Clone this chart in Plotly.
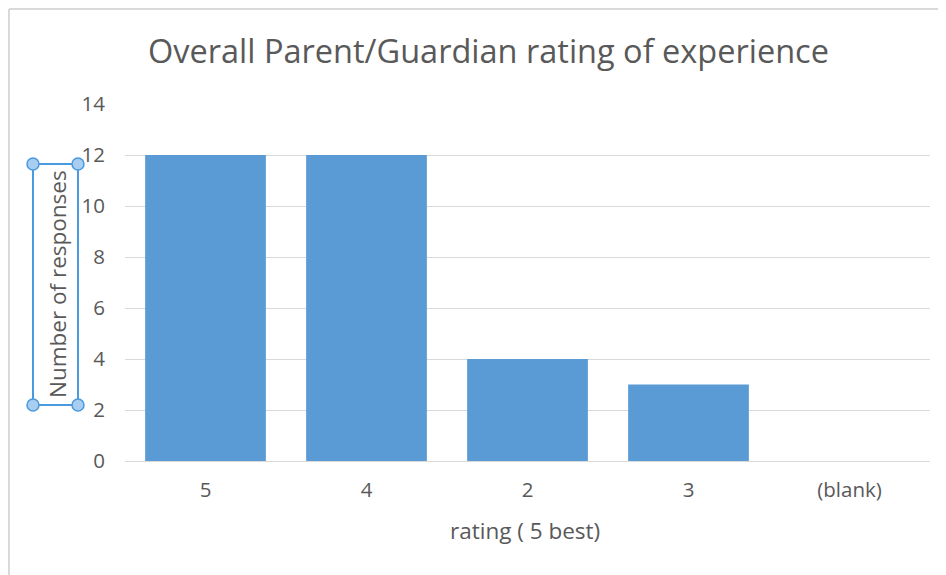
import plotly.graph_objects as go

categories = ["5", "4", "2", "3", "(blank)"]
responses = [12, 12, 4, 3, 0]
y_ticks = [0, 2, 4, 6, 8, 10, 12, 14]

title_text = "Overall Parent/Guardian rating of experience"
x_title = "rating ( 5 best)"
y_title = "Number of responses"

# page body has an 8px margin; work in screen coordinates and shift
OFF = 8
W, H = 946 - OFF, 575 - OFF
L, R, T, B = 125 - OFF, 16, 104 - OFF, 114
pw, ph = W - L - R, H - T - B

def px(x):
    return (x - OFF - L) / pw

def py(y):
    return (H - B - (y - OFF)) / ph

fig = go.Figure(go.Bar(
    x=categories, y=responses,
    marker=dict(color="#5B9BD5", line=dict(width=0)),
))

grey = "#595959"
font = "Open Sans"

fig.update_layout(
    width=W, height=H,
    margin=dict(l=L, r=R, t=T, b=B),
    paper_bgcolor="white", plot_bgcolor="white",
    bargap=0.25,
    showlegend=False,
    font=dict(family=font, color=grey),
    xaxis=dict(
        type="category", showgrid=False, showline=True, linecolor="#D9D9D9", linewidth=1,
        ticks="", tickfont=dict(size=20.5, color=grey, family=font), ticklabelstandoff=10,
    ),
    yaxis=dict(
        range=[0, 14], tickvals=y_ticks, showgrid=True, gridcolor="#D9D9D9", gridwidth=1,
        zeroline=False, showline=False, ticks="", tickfont=dict(size=20.5, color=grey, family=font),
        ticklabelstandoff=19,
    ),
)

annotations = [
    dict(text=title_text, x=px(488), y=py(50), xref="paper", yref="paper", showarrow=False,
         font=dict(size=32.5, color=grey, family=font), xanchor="center", yanchor="middle"),
    dict(text=x_title, x=px(525), y=py(530), xref="paper", yref="paper", showarrow=False,
         font=dict(size=22.5, color=grey, family=font), xanchor="center", yanchor="middle"),
    dict(text=y_title, x=px(57), y=py(284), xref="paper", yref="paper", showarrow=False,
         textangle=-90, font=dict(size=22.5, color=grey, family=font), xanchor="center", yanchor="middle"),
]
fig.update_layout(annotations=annotations)

frame = "#D9D9D9"
sel = "#4A9AE0"
shapes = [
    dict(type="line", xref="paper", yref="paper", x0=px(9), x1=px(9), y0=py(9), y1=py(580),
         line=dict(color=frame, width=2)),
    dict(type="line", xref="paper", yref="paper", x0=px(9), x1=px(950), y0=py(9), y1=py(9),
         line=dict(color=frame, width=2)),
    dict(type="rect", xref="paper", yref="paper", x0=px(33), x1=px(78), y0=py(164), y1=py(405),
         line=dict(color=sel, width=2), fillcolor="rgba(0,0,0,0)"),
]
for cx in (33, 78):
    for cy in (164, 405):
        shapes.append(dict(type="circle", xref="paper", yref="paper",
                           x0=px(cx - 6), x1=px(cx + 6), y0=py(cy - 6), y1=py(cy + 6),
                           line=dict(color=sel, width=1.5), fillcolor="#A9CDF0"))
fig.update_layout(shapes=shapes)

fig.write_html("out.html")
